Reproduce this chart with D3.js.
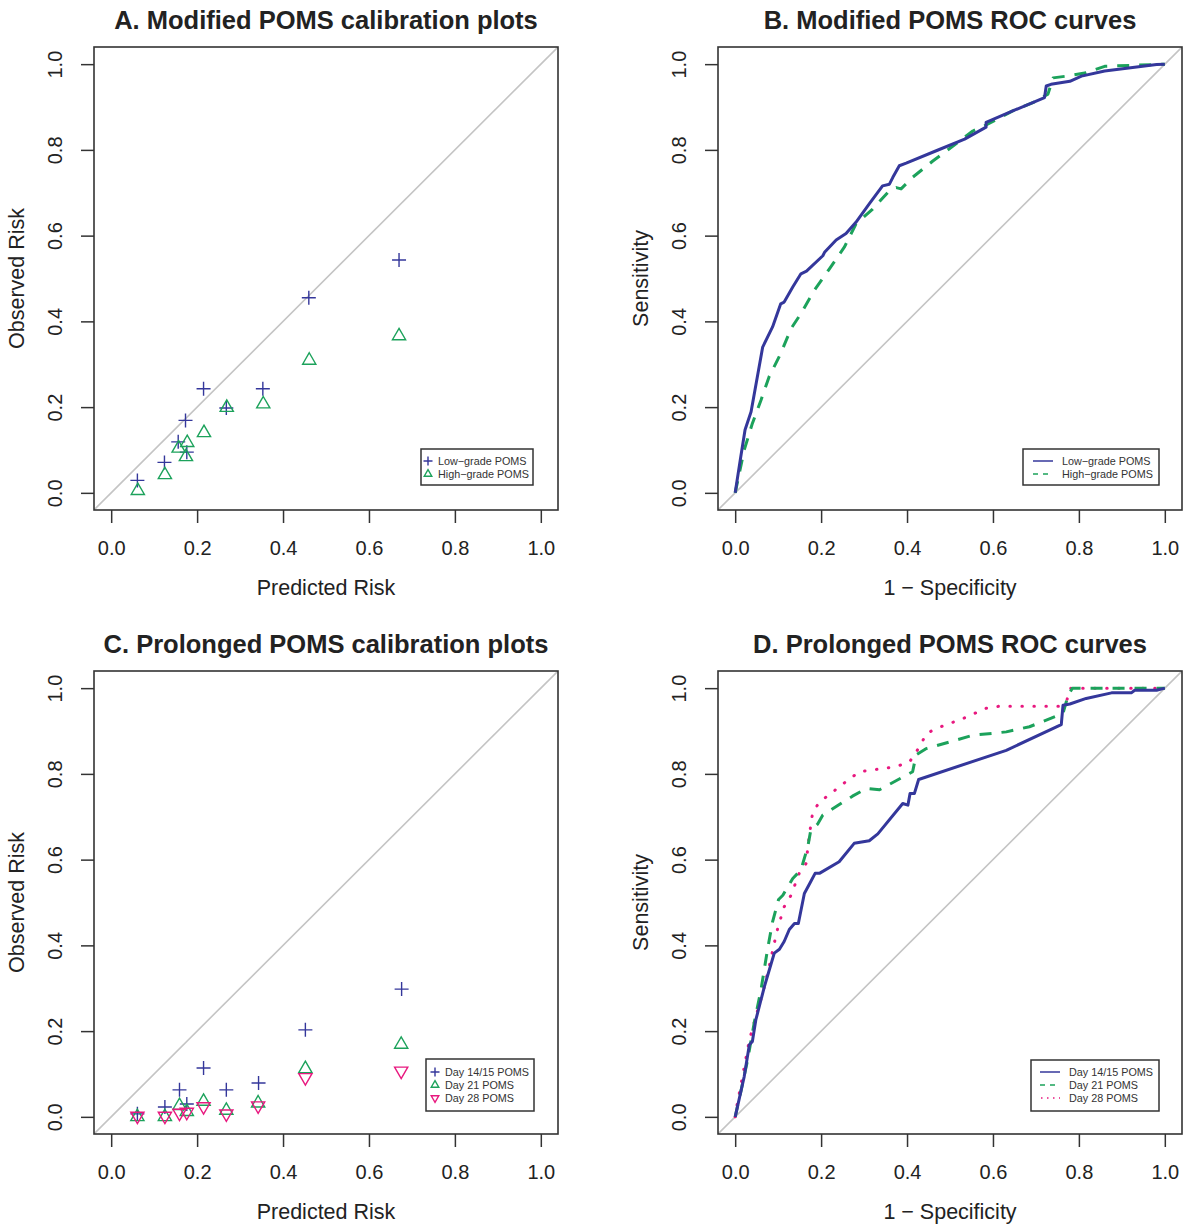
<!DOCTYPE html>
<html>
<head>
<meta charset="utf-8">
<script src="https://cdn.jsdelivr.net/npm/d3@7"></script>
<style>
  html, body { margin: 0; padding: 0; background: #fff; }
  svg { display: block; font-family: "Liberation Sans", Arial, sans-serif; }
</style>
</head>
<body>
<svg id="chart" width="1188" height="1226"></svg>
<script>
// ---------- DATA ----------
const ticks = [0, 0.2, 0.4, 0.6, 0.8, 1.0];

// Panel A: Modified POMS calibration (predicted, observed)
const calA_low_x  = [0.061, 0.124, 0.156, 0.173, 0.176, 0.215, 0.268, 0.353, 0.460, 0.670];
const calA_low_y  = [0.029, 0.071, 0.119, 0.169, 0.095, 0.243, 0.198, 0.243, 0.455, 0.543];
const calA_high_x = [0.062, 0.125, 0.157, 0.177, 0.174, 0.216, 0.269, 0.354, 0.461, 0.670];
const calA_high_y = [0.005, 0.042, 0.104, 0.117, 0.084, 0.140, 0.199, 0.207, 0.309, 0.366];

// Panel C: Prolonged POMS calibration
const calC_d14_x = [0.061, 0.125, 0.159, 0.176, 0.215, 0.268, 0.343, 0.452, 0.676];
const calC_d14_y = [0.007, 0.023, 0.063, 0.030, 0.114, 0.063, 0.079, 0.203, 0.298];
const calC_d21_x = [0.061, 0.125, 0.159, 0.176, 0.215, 0.268, 0.342, 0.452, 0.675];
const calC_d21_y = [0.000, 0.000, 0.026, 0.012, 0.036, 0.015, 0.032, 0.112, 0.169];
const calC_d28_x = [0.061, 0.125, 0.159, 0.176, 0.215, 0.268, 0.342, 0.452, 0.675];
const calC_d28_y = [0.002, 0.002, 0.009, 0.011, 0.024, 0.007, 0.026, 0.092, 0.107];

// Panel B: Modified POMS ROC (1-specificity, sensitivity)
const rocB_low_x = [0, 0.013, 0.023, 0.037, 0.064, 0.087, 0.106, 0.114, 0.134, 0.153, 0.166, 0.204, 0.208, 0.235, 0.258, 0.281, 0.312, 0.343, 0.359, 0.367, 0.382, 0.398, 0.468, 0.534, 0.584, 0.584, 0.646, 0.720, 0.724, 0.735, 0.779, 0.806, 0.860, 0.981, 1];
const rocB_low_y = [0, 0.084, 0.147, 0.189, 0.340, 0.387, 0.441, 0.445, 0.480, 0.511, 0.517, 0.553, 0.561, 0.590, 0.605, 0.631, 0.674, 0.716, 0.720, 0.736, 0.763, 0.769, 0.798, 0.825, 0.853, 0.864, 0.891, 0.922, 0.949, 0.953, 0.960, 0.972, 0.984, 0.999, 1];
const rocB_high_x = [0, 0.021, 0.040, 0.060, 0.079, 0.106, 0.130, 0.153, 0.184, 0.219, 0.254, 0.281, 0.320, 0.359, 0.375, 0.386, 0.413, 0.460, 0.507, 0.553, 0.584, 0.646, 0.693, 0.728, 0.740, 0.771, 0.817, 0.860, 1];
const rocB_high_y = [0, 0.100, 0.162, 0.216, 0.271, 0.325, 0.383, 0.418, 0.472, 0.522, 0.573, 0.627, 0.662, 0.705, 0.712, 0.709, 0.736, 0.774, 0.809, 0.844, 0.858, 0.891, 0.910, 0.930, 0.968, 0.972, 0.980, 0.995, 1];

// Panel D: Prolonged POMS ROC
const rocD_d14_x = [0, 0.009, 0.021, 0.033, 0.040, 0.048, 0.068, 0.091, 0.103, 0.114, 0.126, 0.138, 0.147, 0.161, 0.176, 0.186, 0.196, 0.242, 0.277, 0.312, 0.332, 0.390, 0.402, 0.407, 0.417, 0.427, 0.631, 0.759, 0.763, 0.779, 0.817, 0.876, 0.922, 0.930, 0.981, 1];
const rocD_d14_y = [0, 0.040, 0.094, 0.168, 0.176, 0.226, 0.304, 0.382, 0.391, 0.409, 0.437, 0.451, 0.451, 0.521, 0.549, 0.568, 0.568, 0.595, 0.638, 0.644, 0.660, 0.731, 0.727, 0.754, 0.754, 0.787, 0.855, 0.915, 0.960, 0.963, 0.976, 0.989, 0.989, 0.995, 0.995, 1];
const rocD_d21_x = [0, 0.014, 0.029, 0.044, 0.060, 0.075, 0.087, 0.101, 0.111, 0.134, 0.153, 0.169, 0.176, 0.192, 0.204, 0.273, 0.305, 0.336, 0.413, 0.421, 0.445, 0.553, 0.631, 0.685, 0.763, 0.775, 0.785, 1];
const rocD_d21_y = [0, 0.063, 0.133, 0.218, 0.296, 0.389, 0.455, 0.507, 0.517, 0.556, 0.576, 0.630, 0.669, 0.683, 0.704, 0.748, 0.766, 0.763, 0.805, 0.844, 0.859, 0.890, 0.898, 0.910, 0.941, 0.984, 1, 1];
const rocD_d28_x = [0, 0.005, 0.017, 0.033, 0.048, 0.064, 0.079, 0.091, 0.099, 0.114, 0.130, 0.149, 0.165, 0.172, 0.180, 0.196, 0.219, 0.242, 0.289, 0.375, 0.406, 0.429, 0.445, 0.468, 0.530, 0.584, 0.615, 0.755, 0.772, 0.780, 1];
const rocD_d28_y = [0, 0.032, 0.094, 0.179, 0.234, 0.288, 0.350, 0.405, 0.440, 0.490, 0.517, 0.568, 0.591, 0.653, 0.708, 0.735, 0.751, 0.770, 0.805, 0.817, 0.828, 0.863, 0.894, 0.906, 0.929, 0.953, 0.958, 0.958, 0.972, 1, 1];

const titles = ["A. Modified POMS calibration plots", "B. Modified POMS ROC curves",
                "C. Prolonged POMS calibration plots", "D. Prolonged POMS ROC curves"];
const legA = ["Low\u2212grade POMS", "High\u2212grade POMS"];
const legC = ["Day 14/15 POMS", "Day 21 POMS", "Day 28 POMS"];

// ---------- STYLE ----------
const BLUE = "#34379b", GREEN = "#1ca25b", PINK = "#e8187f";
const AXIS = "#333333", DIAG = "#c4c4c4";

const svg = d3.select("#chart");
const zip = (xs, ys) => xs.map((x, i) => [x, ys[i]]);

function panel(x0, y0, title, xlab, ylab) {
  const W = 464, H = 463;
  const x = d3.scaleLinear().domain([-0.04, 1.04]).range([x0, x0 + W]);
  const y = d3.scaleLinear().domain([-0.04, 1.04]).range([y0 + H, y0]);
  const g = svg.append("g");
  const cid = "clip" + x0 + "_" + y0;
  svg.append("clipPath").attr("id", cid).append("rect")
    .attr("x", x0).attr("y", y0).attr("width", W).attr("height", H);
  // diagonal
  g.append("line").attr("clip-path", `url(#${cid})`)
    .attr("x1", x(-0.04)).attr("y1", y(-0.04)).attr("x2", x(1.04)).attr("y2", y(1.04))
    .attr("stroke", DIAG).attr("stroke-width", 1.6);
  // axes
  const fmt = d3.format(".1f");
  const ax = g.append("g").attr("transform", `translate(0,${y0 + H})`)
    .call(d3.axisBottom(x).tickValues(ticks).tickFormat(fmt).tickSize(13).tickPadding(18));
  ax.select(".domain").remove();
  ax.selectAll("line").attr("stroke", AXIS).attr("stroke-width", 1.5);
  ax.selectAll("text").attr("font-size", 20).attr("fill", "#222").attr("font-family", "Liberation Sans, Arial, sans-serif");
  const ay = g.append("g").attr("transform", `translate(${x0},0)`)
    .call(d3.axisLeft(y).tickValues(ticks).tickFormat(fmt).tickSize(13));
  ay.select(".domain").remove();
  ay.selectAll("line").attr("stroke", AXIS).attr("stroke-width", 1.5);
  ay.selectAll("text").remove();
  ay.selectAll(".tick").append("text")
    .attr("transform", "translate(" + (-32) + ",0) rotate(-90)")
    .attr("text-anchor", "middle").attr("font-size", 20).attr("fill", "#222")
    .attr("font-family", "Liberation Sans, Arial, sans-serif")
    .text(d => fmt(d));
  // box
  g.append("rect").attr("x", x0).attr("y", y0).attr("width", W).attr("height", H)
    .attr("fill", "none").attr("stroke", AXIS).attr("stroke-width", 1.6);
  // titles
  g.append("text").attr("x", x0 + W / 2).attr("y", y0 - 18).attr("text-anchor", "middle")
    .attr("font-size", 25.5).attr("font-weight", "bold").attr("fill", "#222").text(title);
  g.append("text").attr("x", x0 + W / 2).attr("y", y0 + H + 85).attr("text-anchor", "middle")
    .attr("font-size", 21.5).attr("fill", "#222").text(xlab);
  g.append("text").attr("transform", `translate(${x0 - 70},${y0 + H / 2}) rotate(-90)`)
    .attr("text-anchor", "middle").attr("font-size", 21.5).attr("fill", "#222").text(ylab);
  return { g, x, y, cid };
}

function plus(g, cx, cy, col, s = 7) {
  g.append("path").attr("d", `M${cx - s},${cy}H${cx + s}M${cx},${cy - s}V${cy + s}`)
    .attr("stroke", col).attr("stroke-width", 1.4).attr("fill", "none");
}
function tri(g, cx, cy, col, down = false, s = 4.9) {
  const r = 1.555 * s, xc = 1.347 * s, yc = 0.778 * s;
  const d = down
    ? `M${cx},${cy + r}L${cx + xc},${cy - yc}L${cx - xc},${cy - yc}Z`
    : `M${cx},${cy - r}L${cx + xc},${cy + yc}L${cx - xc},${cy + yc}Z`;
  g.append("path").attr("d", d).attr("stroke", col).attr("stroke-width", 1.4).attr("fill", "none");
}

function scatter(p, xs, ys, kind, col) {
  zip(xs, ys).forEach(([a, b]) => {
    const cx = p.x(a), cy = p.y(b);
    if (kind === "plus") plus(p.g, cx, cy, col);
    else tri(p.g, cx, cy, col, kind === "down");
  });
}

function curve(p, xs, ys, col, dash) {
  const line = d3.line().x(d => p.x(d[0])).y(d => p.y(d[1]));
  p.g.append("path").datum(zip(xs, ys)).attr("d", line)
    .attr("clip-path", `url(#${p.cid})`)
    .attr("fill", "none").attr("stroke", col).attr("stroke-width", 3)
    .attr("stroke-linejoin", "round").attr("stroke-linecap", dash === "dot" ? "round" : "butt")
    .attr("stroke-dasharray", dash === "dash" ? "12 10" : dash === "dot" ? "0.5 11.5" : null);
}

function legendBox(g, x, y, w, h) {
  g.append("rect").attr("x", x).attr("y", y).attr("width", w).attr("height", h)
    .attr("fill", "#fff").attr("stroke", AXIS).attr("stroke-width", 1.5);
}
function legendText(g, x, y, t) {
  g.append("text").attr("x", x).attr("y", y + 4).attr("font-size", 10.8).attr("fill", "#333").text(t);
}

// ---------- PANEL A ----------
const pA = panel(94, 47, titles[0], "Predicted Risk", "Observed Risk");
scatter(pA, calA_low_x, calA_low_y, "plus", BLUE);
scatter(pA, calA_high_x, calA_high_y, "up", GREEN);
legendBox(pA.g, 421, 449, 112, 36);
plus(pA.g, 428, 461, BLUE, 4.5); legendText(pA.g, 438, 461, legA[0]);
tri(pA.g, 428, 474, GREEN, false, 2.8); legendText(pA.g, 438, 474, legA[1]);

// ---------- PANEL B ----------
const pB = panel(718, 47, titles[1], "1 \u2212 Specificity", "Sensitivity");
curve(pB, rocB_high_x, rocB_high_y, GREEN, "dash");
curve(pB, rocB_low_x, rocB_low_y, BLUE, null);
legendBox(pB.g, 1023, 449, 136, 36);
pB.g.append("line").attr("x1", 1033).attr("x2", 1053).attr("y1", 461).attr("y2", 461).attr("stroke", BLUE).attr("stroke-width", 1.5);
pB.g.append("line").attr("x1", 1033).attr("x2", 1053).attr("y1", 474).attr("y2", 474).attr("stroke", GREEN).attr("stroke-width", 1.5).attr("stroke-dasharray", "5 5");
legendText(pB.g, 1062, 461, legA[0]);
legendText(pB.g, 1062, 474, legA[1]);

// ---------- PANEL C ----------
const pC = panel(94, 671, titles[2], "Predicted Risk", "Observed Risk");
scatter(pC, calC_d14_x, calC_d14_y, "plus", BLUE);
scatter(pC, calC_d21_x, calC_d21_y, "up", GREEN);
scatter(pC, calC_d28_x, calC_d28_y, "down", PINK);
legendBox(pC.g, 426, 1059, 108, 52);
plus(pC.g, 435, 1072, BLUE, 4.5); legendText(pC.g, 445, 1072, legC[0]);
tri(pC.g, 435, 1085, GREEN, false, 2.8); legendText(pC.g, 445, 1085, legC[1]);
tri(pC.g, 435, 1098, PINK, true, 2.8); legendText(pC.g, 445, 1098, legC[2]);

// ---------- PANEL D ----------
const pD = panel(718, 671, titles[3], "1 \u2212 Specificity", "Sensitivity");
curve(pD, rocD_d28_x, rocD_d28_y, PINK, "dot");
curve(pD, rocD_d21_x, rocD_d21_y, GREEN, "dash");
curve(pD, rocD_d14_x, rocD_d14_y, BLUE, null);
legendBox(pD.g, 1031, 1060, 128, 51);
pD.g.append("line").attr("x1", 1040).attr("x2", 1060).attr("y1", 1072).attr("y2", 1072).attr("stroke", BLUE).attr("stroke-width", 1.5);
pD.g.append("line").attr("x1", 1040).attr("x2", 1060).attr("y1", 1085).attr("y2", 1085).attr("stroke", GREEN).attr("stroke-width", 1.5).attr("stroke-dasharray", "5 5");
pD.g.append("line").attr("x1", 1041).attr("x2", 1060).attr("y1", 1098).attr("y2", 1098).attr("stroke", PINK).attr("stroke-width", 1.5).attr("stroke-dasharray", "1.5 4.5");
legendText(pD.g, 1069, 1072, legC[0]);
legendText(pD.g, 1069, 1085, legC[1]);
legendText(pD.g, 1069, 1098, legC[2]);
</script>
</body>
</html>
